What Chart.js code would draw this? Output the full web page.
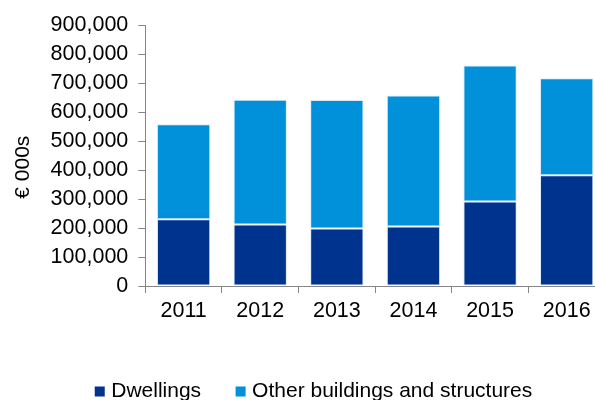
<!DOCTYPE html>
<html>
<head>
<meta charset="utf-8">
<script src="https://cdn.jsdelivr.net/npm/chart.js@4/dist/chart.umd.min.js"></script>
<style>
  html, body { margin: 0; padding: 0; background: #fff; overflow: hidden; width: 595px; height: 400px; }
  #wrap { position: absolute; left: 0; top: 0; width: 628px; height: 412px; }
</style>
</head>
<body>
<div id="wrap"><canvas id="c" width="628" height="412"></canvas></div>
<script>
const categories = ["2011", "2012", "2013", "2014", "2015", "2016"];
const dwellings = [230000, 212000, 198000, 205000, 291000, 382000];
const otherBuildings = [328000, 430000, 443000, 452000, 469000, 334000];
const seriesNames = ["Dwellings", "Other buildings and structures"];
const yTicks = [0, 100000, 200000, 300000, 400000, 500000, 600000, 700000, 800000, 900000];
const yTitle = "€ 000s";

const FONT = "'Liberation Sans', Arial, sans-serif";
const axisGray = "#868686";

const legendShift = {
  id: "legendShift",
  afterLayout(chart) {
    if (chart.legend) { chart.legend.left += 13; chart.legend.right += 13; }
  }
};

new Chart(document.getElementById("c"), {
  type: "bar",
  plugins: [legendShift],
  data: {
    labels: categories,
    datasets: [
      { label: seriesNames[0], data: dwellings, backgroundColor: "#00338d", borderColor: "#dce8f6", borderWidth: 1, borderSkipped: false },
      { label: seriesNames[1], data: otherBuildings, backgroundColor: "#0091da", borderColor: "#dce8f6", borderWidth: 1, borderSkipped: false }
    ]
  },
  options: {
    responsive: false,
    animation: false,
    devicePixelRatio: 1,
    categoryPercentage: 1,
    barPercentage: 0.696,
    layout: { padding: { left: 0, right: 23, top: 25, bottom: 0 } },
    plugins: {
      tooltip: { enabled: false },
      legend: {
        position: "bottom",
        labels: {
          color: "#000",
          font: { family: FONT, size: 21 },
          usePointStyle: true,
          boxWidth: 2,
          boxHeight: 10,
          padding: 38.5,
          generateLabels(chart) {
            return chart.data.datasets.map((d, i) => ({
              text: d.label, fillStyle: d.backgroundColor, strokeStyle: d.backgroundColor,
              lineWidth: 0, hidden: false, datasetIndex: i, fontColor: "#000", pointStyle: "rect"
            }));
          }
        }
      }
    },
    scales: {
      x: {
        stacked: true,
        border: { display: true, color: axisGray, width: 1 },
        grid: { display: true, drawOnChartArea: false, drawTicks: true, tickLength: 7, color: axisGray, offset: true },
        ticks: { color: "#000", font: { family: FONT, size: 21.5 }, padding: 5, maxRotation: 0 },
        afterFit(scale) { scale.height = 56.5; }
      },
      y: {
        stacked: true,
        min: 0,
        max: yTicks[yTicks.length - 1],
        border: { display: true, color: axisGray, width: 1 },
        grid: { display: true, drawOnChartArea: false, drawTicks: true, tickLength: 7, color: axisGray },
        afterBuildTicks(scale) { scale.ticks = yTicks.map(v => ({ value: v })); },
        ticks: {
          color: "#000",
          font: { family: FONT, size: 21.5 },
          padding: 10,
          callback: v => Number(v).toLocaleString("en-US")
        },
        title: {
          display: true,
          text: yTitle + "\u00a0\u00a0\u00a0\u00a0",
          color: "#000",
          font: { family: FONT, size: 21 },
          padding: { top: 11, bottom: 0 }
        },
        afterFit(scale) { scale.width = 145.3; }
      }
    }
  }
});
</script>
</body>
</html>
